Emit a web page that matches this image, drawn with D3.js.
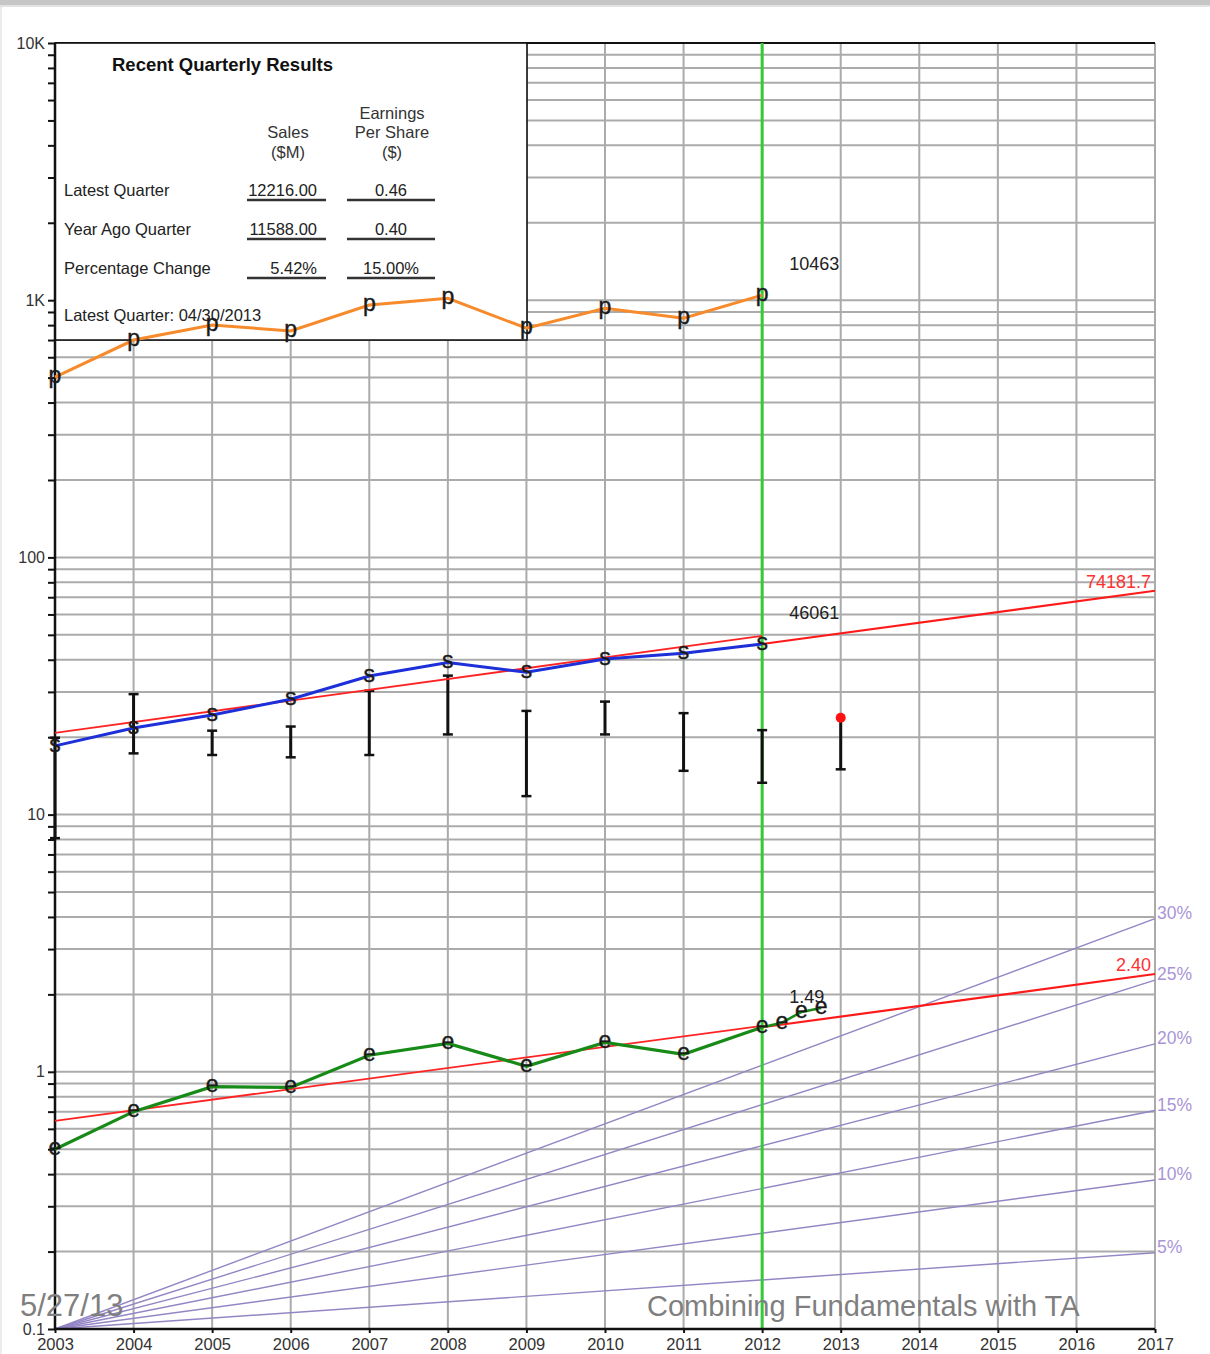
<!DOCTYPE html>
<html>
<head>
<meta charset="utf-8">
<script src="https://cdn.jsdelivr.net/npm/d3@7"></script>
<style>
  html, body { margin: 0; padding: 0; background: #ffffff; }
  svg { display: block; }
  text { font-family: "Liberation Sans", Arial, Helvetica, sans-serif; }
</style>
</head>
<body>
<svg id="chart" width="1210" height="1354"></svg>
<script>
// ---- annual history ----
const years = [2003, 2004, 2005, 2006, 2007, 2008, 2009, 2010, 2011, 2012];

// "p" series, stored in the units its label uses (plotted at one tenth)
const priceSeries = [5020, 7000, 8010, 7590, 9580, 10170, 7780, 9300, 8505, 10463];
const priceDivisor = 10;

// sales in $M (plotted in $B)
const salesM = [18500, 21700, 24400, 28100, 34600, 39000, 35800, 40300, 42400, 46061];
const salesDivisor = 1000;
const salesFitYears = [2003, 2012];
const salesFitM = [20800, 49500];
const salesProjYears = [2012, 2017];
const salesProjM = [46061, 74181.7];

// earnings per share ($)
const eps = [0.50, 0.70, 0.875, 0.87, 1.16, 1.29, 1.05, 1.30, 1.17, 1.49];
const epsQuarterYears = [2012.25, 2012.5, 2012.75];
const epsQuarter = [1.55, 1.71, 1.77];
const epsFitYears = [2003, 2012];
const epsFit = [0.645, 1.51];
const epsProjYears = [2012, 2017];
const epsProj = [1.49, 2.40];

// yearly P/E range bars (last one is the current year, topped by a dot)
const peYears = [2003, 2004, 2005, 2006, 2007, 2008, 2009, 2010, 2011, 2012, 2013];
const peHigh = [19.9, 29.4, 21.2, 22.0, 30.3, 34.7, 25.3, 27.5, 24.8, 21.3, 23.8];
const peLow  = [8.1, 17.3, 17.05, 16.7, 17.05, 20.5, 11.8, 20.5, 14.8, 13.3, 15.0];

// reference growth fans from the chart origin
const growthRates = [5, 10, 15, 20, 25, 30];

// axis ticks
const decadeTicks = [0.1, 1, 10, 100, 1000, 10000];
const decadeLabels = ["0.1", "1", "10", "100", "1K", "10K"];
const yearTicks = d3.range(2003, 2018);
const markerYear = 2012;

// quarterly table
const tableTitle = "Recent Quarterly Results";
const tableRows = ["Latest Quarter", "Year Ago Quarter", "Percentage Change"];
const tableSales = ["12216.00", "11588.00", "5.42%"];
const tableEps = ["0.46", "0.40", "15.00%"];
const tableFooter = "Latest Quarter: 04/30/2013";

const footerDate = "5/27/13";
const footerTitle = "Combining Fundamentals with TA";

// ---- drawing ----
const svg = d3.select("#chart");
const L = 55, R = 1155, T = 43, B = 1329;

const x = d3.scaleLinear().domain([2003, 2017]).range([L, R]);
const y = d3.scaleLog().domain([0.1, 10000]).range([B, T]);

// window edge
svg.append("rect").attr("x", 0).attr("y", 0).attr("width", 1210).attr("height", 5).attr("fill", "#c6c6c6");
svg.append("rect").attr("x", 0).attr("y", 5).attr("width", 1210).attr("height", 2).attr("fill", "#e2e2e2");
svg.append("rect").attr("x", 0).attr("y", 7).attr("width", 2).attr("height", 1347).attr("fill", "#ececec");

// grid values: 1..9 in each decade plus the top
const gridVals = [];
for (let d = 0.1; d < 10000; d *= 10) {
  for (let k = 1; k <= 9; k++) gridVals.push(+(d * k).toPrecision(3));
}
gridVals.push(10000);

const grid = svg.append("g").attr("stroke", "#ababab").attr("stroke-width", 2);
grid.selectAll("line.h").data(gridVals).join("line")
  .attr("x1", L).attr("x2", R)
  .attr("y1", d => y(d)).attr("y2", d => y(d));
grid.selectAll("line.v").data(yearTicks.slice(1)).join("line")
  .attr("x1", d => x(d)).attr("x2", d => x(d))
  .attr("y1", T).attr("y2", B);

// top frame
svg.append("line").attr("x1", L).attr("x2", R).attr("y1", T).attr("y2", T)
  .attr("stroke", "#111").attr("stroke-width", 2);

// quarterly results box
const box = svg.append("g");
box.append("rect").attr("x", L).attr("y", T).attr("width", 472).attr("height", y(700) - T)
  .attr("fill", "#fff").attr("stroke", "#111").attr("stroke-width", 1.6);
box.append("text").attr("x", 112).attr("y", 71).attr("font-size", 18.5).attr("font-weight", "bold")
  .attr("fill", "#111").text(tableTitle);

const hdr = box.append("g").attr("font-size", 16.5).attr("fill", "#333").attr("text-anchor", "middle");
hdr.append("text").attr("x", 288).attr("y", 138).text("Sales");
hdr.append("text").attr("x", 288).attr("y", 158).text("($M)");
hdr.append("text").attr("x", 392).attr("y", 119).text("Earnings");
hdr.append("text").attr("x", 392).attr("y", 138).text("Per Share");
hdr.append("text").attr("x", 392).attr("y", 158).text("($)");

const rowY = [190, 229, 268];
tableRows.forEach((r, i) => {
  box.append("text").attr("x", 64).attr("y", rowY[i] + 6).attr("font-size", 16.5).attr("fill", "#222").text(r);
  box.append("text").attr("x", 317).attr("y", rowY[i] + 6).attr("font-size", 16.5).attr("fill", "#222")
    .attr("text-anchor", "end").text(tableSales[i]);
  box.append("text").attr("x", 391).attr("y", rowY[i] + 6).attr("font-size", 16.5).attr("fill", "#222")
    .attr("text-anchor", "middle").text(tableEps[i]);
  box.append("line").attr("x1", 247).attr("x2", 326).attr("y1", rowY[i] + 10).attr("y2", rowY[i] + 10)
    .attr("stroke", "#333").attr("stroke-width", 2.5);
  box.append("line").attr("x1", 347).attr("x2", 435).attr("y1", rowY[i] + 10).attr("y2", rowY[i] + 10)
    .attr("stroke", "#333").attr("stroke-width", 2.5);
});
box.append("text").attr("x", 64).attr("y", 321).attr("font-size", 16.5).attr("fill", "#222").text(tableFooter);

// growth fans
const fan = svg.append("g");
growthRates.forEach(r => {
  const end = 0.1 * Math.pow(1 + r / 100, 2017 - 2003);
  fan.append("line").attr("x1", x(2003)).attr("y1", y(0.1)).attr("x2", x(2017)).attr("y2", y(end))
    .attr("stroke", "#9485c4").attr("stroke-width", 1.4);
  fan.append("text").attr("x", R + 2).attr("y", y(end) - 6).attr("dy", "0.35em")
    .attr("font-size", 17.5).attr("fill", "#a995d6").text(r + "%");
});

// vertical marker at the latest full year
svg.append("line").attr("x1", x(markerYear)).attr("x2", x(markerYear)).attr("y1", T).attr("y2", B)
  .attr("stroke", "#35c935").attr("stroke-width", 3);

// axes
svg.append("line").attr("x1", L).attr("x2", L).attr("y1", T).attr("y2", B + 1)
  .attr("stroke", "#111").attr("stroke-width", 2.5);
svg.append("line").attr("x1", L - 1).attr("x2", R).attr("y1", B).attr("y2", B)
  .attr("stroke", "#111").attr("stroke-width", 2.5);

const yAxis = d3.axisLeft(y).tickValues(gridVals).tickSize(7).tickFormat(d => {
  const i = decadeTicks.findIndex(v => Math.abs(v - d) / d < 1e-6);
  return i >= 0 ? decadeLabels[i] : "";
});
const gy = svg.append("g").attr("transform", `translate(${L},0)`).call(yAxis);
gy.select(".domain").remove();
gy.selectAll(".tick line").attr("stroke", "#111").attr("stroke-width", 2);
gy.selectAll(".tick text").attr("font-size", 16).attr("fill", "#333")
  .attr("font-family", "Liberation Sans, Arial, sans-serif").attr("x", -10);

const xAxis = d3.axisBottom(x).tickValues(yearTicks).tickSize(4).tickFormat(d3.format("d"));
const gx = svg.append("g").attr("transform", `translate(0,${B})`).call(xAxis);
gx.select(".domain").remove();
gx.selectAll(".tick line").attr("stroke", "#111").attr("stroke-width", 2);
gx.selectAll(".tick text").attr("font-size", 16.5).attr("fill", "#333")
  .attr("font-family", "Liberation Sans, Arial, sans-serif").attr("y", 9);

// P/E range bars
const bars = svg.append("g").attr("stroke", "#111").attr("stroke-width", 3);
peYears.forEach((yr, i) => {
  const cx = x(yr), top = y(peHigh[i]), bot = y(peLow[i]);
  const isCurrent = i === peYears.length - 1;
  bars.append("line").attr("x1", cx).attr("x2", cx).attr("y1", top).attr("y2", bot);
  bars.append("line").attr("x1", cx - 5).attr("x2", cx + 5).attr("y1", bot).attr("y2", bot).attr("stroke-width", 2.5);
  if (!isCurrent) {
    bars.append("line").attr("x1", cx - 5).attr("x2", cx + 5).attr("y1", top).attr("y2", top).attr("stroke-width", 2.5);
  }
});
svg.append("circle").attr("cx", x(peYears[peYears.length - 1])).attr("cy", y(peHigh[peHigh.length - 1]))
  .attr("r", 5).attr("fill", "#ff1111");

// trend fits and projections
function seg(xs, vs, div, color, w) {
  svg.append("line")
    .attr("x1", x(xs[0])).attr("y1", y(vs[0] / div))
    .attr("x2", x(xs[1])).attr("y2", y(vs[1] / div))
    .attr("stroke", color).attr("stroke-width", w);
}
seg(salesFitYears, salesFitM, salesDivisor, "#ff2424", 1.8);
seg(salesProjYears, salesProjM, salesDivisor, "#ff1a1a", 2.2);
seg(epsFitYears, epsFit, 1, "#ff2424", 1.8);
seg(epsProjYears, epsProj, 1, "#ff1a1a", 2.2);

// series lines
const line = d3.line().x(d => x(d[0])).y(d => y(d[1]));
const pricePts = years.map((yr, i) => [yr, priceSeries[i] / priceDivisor]);
const salesPts = years.map((yr, i) => [yr, salesM[i] / salesDivisor]);
const epsPts = years.map((yr, i) => [yr, eps[i]])
  .concat(epsQuarterYears.map((yr, i) => [yr, epsQuarter[i]]));

svg.append("path").attr("d", line(pricePts)).attr("fill", "none")
  .attr("stroke", "#f78a2a").attr("stroke-width", 3);
svg.append("path").attr("d", line(salesPts)).attr("fill", "none")
  .attr("stroke", "#1c2fd8").attr("stroke-width", 3);
svg.append("path").attr("d", line(epsPts.slice(0, years.length))).attr("fill", "none")
  .attr("stroke", "#178a17").attr("stroke-width", 3.2);
svg.append("path").attr("d", line(epsPts.slice(years.length - 1))).attr("fill", "none")
  .attr("stroke", "#178a17").attr("stroke-width", 2.6);

// letter markers
function letters(pts, ch) {
  svg.append("g").selectAll("text").data(pts).join("text")
    .attr("x", d => x(d[0])).attr("y", d => y(d[1])).attr("dy", "0.25em")
    .attr("text-anchor", "middle").attr("font-size", 23).attr("fill", "#1a1a1a")
    .attr("stroke", "#1a1a1a").attr("stroke-width", 0.4).text(ch);
}
letters(pricePts, "p");
letters(salesPts, "s");
letters(epsPts, "e");

// latest values
const lastIdx = years.length - 1;
const valLabel = (v, txt) => svg.append("text").attr("x", x(markerYear) + 27).attr("y", y(v) - 31)
  .attr("dy", "0.35em").attr("font-size", 18).attr("fill", "#222").text(txt);
valLabel(priceSeries[lastIdx] / priceDivisor, String(priceSeries[lastIdx]));
valLabel(salesM[lastIdx] / salesDivisor, String(salesM[lastIdx]));
valLabel(eps[lastIdx], eps[lastIdx].toFixed(2));

// projection end values
svg.append("text").attr("x", R - 4).attr("y", y(salesProjM[1] / salesDivisor) - 9).attr("dy", "0.35em")
  .attr("text-anchor", "end").attr("font-size", 18).attr("fill", "#ff3030").text(String(salesProjM[1]));
svg.append("text").attr("x", R - 4).attr("y", y(epsProj[1]) - 9).attr("dy", "0.35em")
  .attr("text-anchor", "end").attr("font-size", 18).attr("fill", "#ff3030").text(epsProj[1].toFixed(2));

// slide footer
const foot = svg.append("g").attr("fill", "#7f7f7f")
  .style("font-family", "Lato, 'Open Sans', sans-serif");
foot.append("text").attr("x", 20).attr("y", 1316).attr("font-size", 31).text(footerDate);
foot.append("text").attr("x", 647).attr("y", 1316).attr("font-size", 29).text(footerTitle);
</script>
</body>
</html>
